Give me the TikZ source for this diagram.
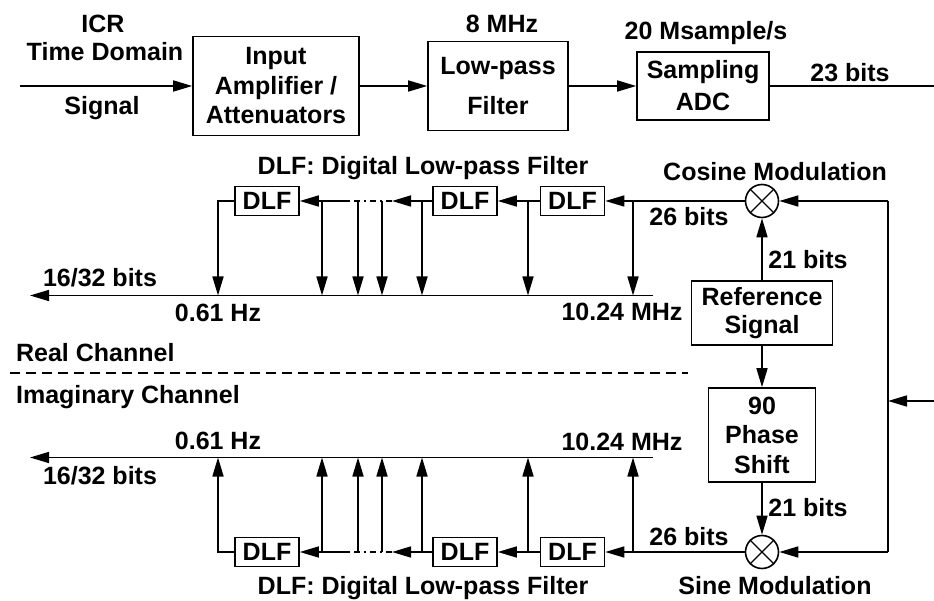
\documentclass[tikz,border=0pt]{standalone}
\usepackage{fontspec}
\setmainfont{Liberation Sans}
\usetikzlibrary{arrows.meta}

\begin{document}
\begin{tikzpicture}[x=1pt,y=1pt,line width=1.6pt,>={Triangle[length=19pt,width=11pt]},
 line join=miter,font=\fontsize{25}{29.5}\selectfont\bfseries,
 block/.style={draw,align=center,inner sep=0pt},
 dlf/.style={draw,minimum width=64pt,minimum height=29pt,inner sep=0pt},
 txt/.style={anchor=base},
 mixer/.style={draw,circle,minimum size=33pt,inner sep=0pt}]
 \useasboundingbox (0,0) rectangle (934,600);
 % front end
 \coordinate (in) at (20,514);
 \coordinate (out) at (934,514);
 \node[block,minimum width=166pt,minimum height=99pt] (amp) at (276,514)
  {Input\\Amplifier /\\Attenuators};
 \node[block,minimum width=140pt,minimum height=89pt] (lpf) at (498,514)
  {Low-pass\\[10pt]Filter};
 \node[block,minimum width=132pt,minimum height=68pt] (adc) at (703,514)
  {Sampling\\[2.5pt]ADC};
 \draw[->] (in) -- (amp);
 \draw[->] (amp) -- (lpf);
 \draw[->] (lpf) -- (adc);
 \draw (adc) -- (out);
 \node[txt] (icr) at (103,567) {ICR};
 \node[txt] (tdom) at (105,539) {Time Domain};
 \node[txt] (sig) at (102,485) {Signal};
 \node[txt] (fc) at (502,567) {8 MHz};
 \node[txt] (rate) at (706,560) {20 Msample/s};
 \node[txt] (adcbits) at (850,518) {23 bits};
 % reference path
 \node[block,minimum width=141pt,minimum height=64pt] (ref) at (762,287)
  {Reference\\[-1.5pt]Signal};
 \node[block,minimum width=107pt,minimum height=94pt] (phase) at (762,165)
  {90\\Phase\\Shift};
 \draw[->] (ref) -- (phase);
 \node[txt] (refbits) at (808,331) {21 bits};
 \node[txt] (phbits) at (808,83.5) {21 bits};
 % both channels
 \foreach \ch/\s/\modname/\modpos/\cappos in
  {re/1/Cosine Modulation/205/211,im/-1/Sine Modulation/209/209}{
  \begin{scope}[shift={(0,223.5)},yscale=\s]
   \node[mixer] (\ch-mix) at (762,175.5) {};
   \draw[line width=1.2pt] (\ch-mix.45) -- (\ch-mix.225) (\ch-mix.135) -- (\ch-mix.315);
   \node[dlf] (\ch-dlfc) at (572.5,175.5) {DLF};
   \node[dlf] (\ch-dlfb) at (465,175.5) {DLF};
   \node[dlf] (\ch-dlfa) at (267,175.5) {DLF};
   \coordinate (\ch-busr) at (653,81);
   \coordinate (\ch-busl) at (30,81);
   \coordinate (\ch-dota) at (348,175.5);
   \coordinate (\ch-dotb) at (392,175.5);
   \coordinate (\ch-hit218) at (218,81);
   \coordinate (\ch-rt) at (888,175.5);
   \draw[->] (\ch-busr) -- (\ch-busl);
   \draw[->] (\ch-rt) -- (\ch-mix);
   \draw[->] (\ch-mix) -- (\ch-dlfc);
   \draw[->] (\ch-dlfc) -- (\ch-dlfb);
   \draw[->] (\ch-dlfb) -- (\ch-dotb);
   \draw[dash pattern=on 6pt off 4pt on 2pt off 4pt] (\ch-dotb) -- (\ch-dota);
   \draw[->] (\ch-dota) -- (\ch-dlfa);
   \draw[->] (\ch-dlfa.west) -| (\ch-hit218);
   \foreach \x in {322,358,382,422,528,633}{
    \coordinate (\ch-tap\x) at (\x,175.5);
    \coordinate (\ch-hit\x) at (\x,81);
    \draw[->] (\ch-tap\x) -- (\ch-hit\x);
   }
   \node[txt] (\ch-cap) at (423,{\cappos-9*\s}) {DLF: Digital Low-pass Filter};
   \node[txt] (\ch-modlbl) at (775,{\modpos-9*\s}) {\modname};
   \node[txt] (\ch-outbits) at (100,{99-9*\s}) {16/32 bits};
   \node[txt] (\ch-lo) at (218,{64-9*\s}) {0.61 Hz};
   \node[txt] (\ch-hi) at (622,{65-9*\s}) {10.24 MHz};
   \node[txt] (\ch-mixbits) at (689,{160-9*\s}) {26 bits};
  \end{scope}
 }
 \draw[->] (ref) -- (re-mix);
 \draw[->] (phase) -- (im-mix);
 \draw (re-rt) -- (im-rt);
 \coordinate (fbin) at (934,199);
 \coordinate (fbjoin) at (888,199);
 \draw[->] (fbin) -- (fbjoin);
 % channel divider
 \coordinate (divl) at (10,227);
 \coordinate (divr) at (688,227);
 \draw[dash pattern=on 10pt off 6pt] (divl) -- (divr);
 \node[txt,anchor=base west] (realch) at (12,238) {Real Channel};
 \node[txt,anchor=base west] (imagch) at (12,196.5) {Imaginary Channel};
\end{tikzpicture}
\end{document}
